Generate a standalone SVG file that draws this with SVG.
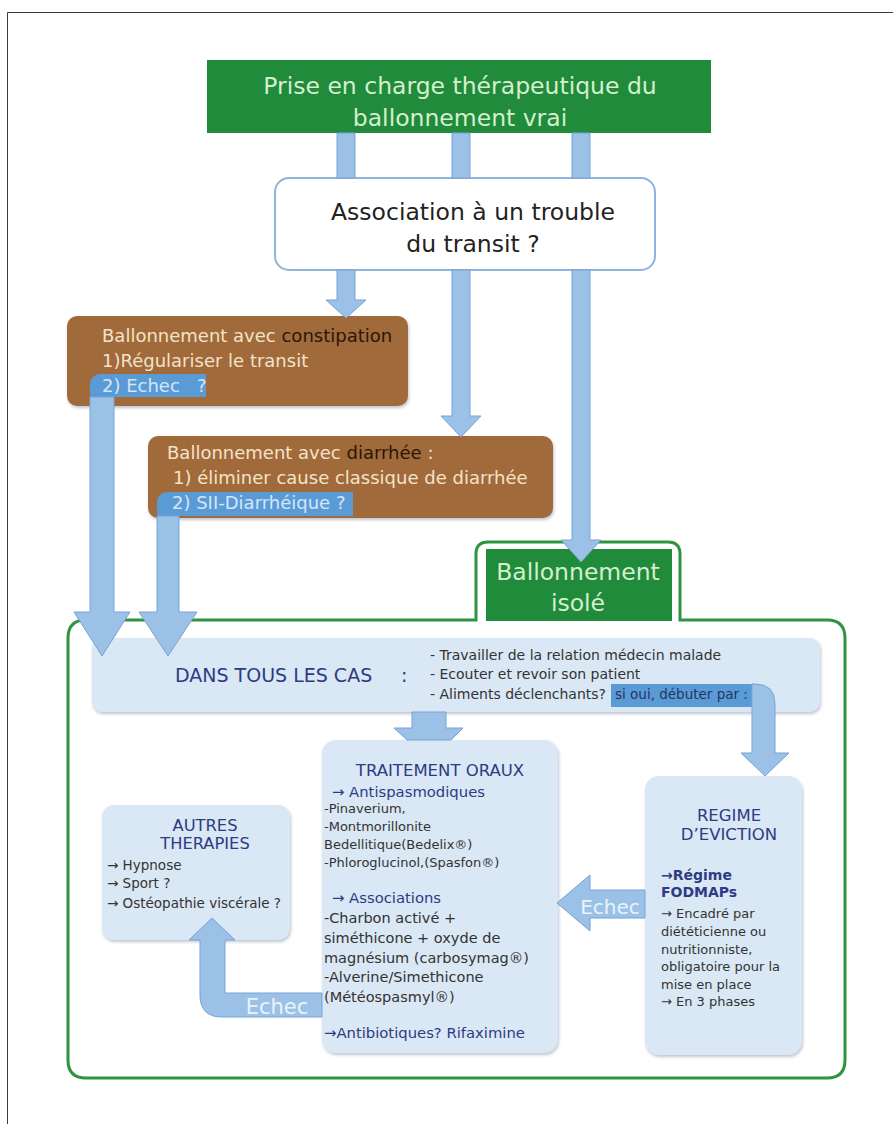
<svg xmlns="http://www.w3.org/2000/svg" width="893" height="1124" viewBox="0 0 893 1124">
<defs>
<style>
text{font-family:"DejaVu Sans","Liberation Sans",sans-serif}
.page{fill:none;stroke:#3a3a3a;stroke-width:1}
.gbox{fill:#1f8b3b}
.gtxt{fill:#d6efcf;font-size:23.5px;text-anchor:middle}
.brown{fill:#a16b3a;filter:url(#sh)}
.light{fill:#f3e3c9}
.dark{fill:#2a1708}
.hl{fill:#5b9bd5}
.hltxt{fill:#d3e6f8}
.lb{fill:#dae7f4;filter:url(#sh)}
.navy{fill:#2d3b84}
.body{fill:#333}
.arr{fill:#9cc1e7;stroke:#76a3d6;stroke-width:1}
.frame{fill:none;stroke:#2f9440;stroke-width:3}
.echec{fill:#eaf3fc;text-anchor:middle}
</style>
<filter id="sh" x="-5%" y="-5%" width="110%" height="115%"><feDropShadow dx="1" dy="2" stdDeviation="1.5" flood-color="#7f8fa3" flood-opacity="0.5"/></filter>
</defs>
<rect width="893" height="1124" fill="#fff"/>
<path class="page" d="M7.5 1124 V12.5 H893"/>

<g id="frame-isole">
<path class="frame" d="M86 620 H476 V554 Q476 542 488 542 H668 Q680 542 680 554 V620 H827 Q845 620 845 638 V1060 Q845 1078 827 1078 H86 Q68 1078 68 1060 V638 Q68 620 86 620 Z"/>
<rect class="gbox" x="486" y="549" width="186" height="72"/>
<text class="gtxt" x="578" y="580">Ballonnement</text>
<text class="gtxt" x="578" y="611">isolé</text>
</g>

<g id="title">
<rect class="gbox" x="207" y="60" width="504" height="73"/>
<text class="gtxt" x="460" y="93.5">Prise en charge thérapeutique du</text>
<text class="gtxt" x="460" y="125.5">ballonnement vrai</text>
</g>

<g id="association">
<rect x="275" y="178" width="380" height="92" rx="14" fill="#fff" stroke="#8fb3dc" stroke-width="2"/>
<text x="473" y="220" font-size="23.5" fill="#222" text-anchor="middle">Association à un trouble</text>
<text x="473" y="252" font-size="23.5" fill="#222" text-anchor="middle">du transit ?</text>
</g>

<g id="constipation">
<rect class="brown" x="67" y="316" width="341" height="90" rx="10"/>
<text x="102" y="342" font-size="18"><tspan class="light">Ballonnement avec </tspan><tspan class="dark">constipation</tspan></text>
<text class="light" x="102" y="367" font-size="18">1)Régulariser le transit</text>
<path class="hl" d="M90 386 Q90 374 102 374 H206 V397 H90 Z"/>
<text class="hltxt" x="102" y="392" font-size="18">2) Echec&#160;&#160; ?</text>
</g>

<g id="diarrhee">
<rect class="brown" x="148" y="436" width="405" height="82" rx="10"/>
<text x="167" y="459" font-size="18"><tspan class="light">Ballonnement avec </tspan><tspan class="dark">diarrhée</tspan><tspan class="light"> :</tspan></text>
<text class="light" x="173" y="484" font-size="18">1) éliminer cause classique de diarrhée</text>
<path class="hl" d="M157 504 Q157 492 169 492 H353 V516 H157 Z"/>
<text class="hltxt" x="172" y="509" font-size="18">2) SII-Diarrhéique ?</text>
</g>

<g id="dans-tous-les-cas">
<rect class="lb" x="92" y="638" width="728" height="74" rx="10"/>
<text class="navy" x="175" y="682" font-size="19">DANS TOUS LES CAS</text>
<text class="navy" x="401" y="682" font-size="19">:</text>
<text class="body" x="430" y="660" font-size="14">- Travailler de la relation médecin malade</text>
<text class="body" x="430" y="679" font-size="14">- Ecouter et revoir son patient</text>
<text class="body" x="430" y="699" font-size="14">- Aliments déclenchants?</text>
<rect class="hl" x="611" y="684" width="141" height="23"/>
<text x="615" y="699" font-size="13.5" fill="#1f3566">si oui, débuter par :</text>
</g>

<g id="traitement-oraux">
<rect class="lb" x="322" y="740" width="236" height="313" rx="14"/>
<text class="navy" x="440" y="776" font-size="16.5" text-anchor="middle">TRAITEMENT ORAUX</text>
<text class="navy" x="332" y="797" font-size="14.8">→ Antispasmodiques</text>
<text class="body" x="324" y="813" font-size="13">-Pinaverium,</text>
<text class="body" x="324" y="831" font-size="13">-Montmorillonite</text>
<text class="body" x="324" y="849" font-size="13">Bedellitique(Bedelix®)</text>
<text class="body" x="324" y="867" font-size="13">-Phloroglucinol,(Spasfon®)</text>
<text class="navy" x="332" y="903" font-size="14.8">→ Associations</text>
<text class="body" x="324" y="923" font-size="14.5">-Charbon activé +</text>
<text class="body" x="324" y="943" font-size="14.5">siméthicone + oxyde de</text>
<text class="body" x="324" y="963" font-size="14.5">magnésium (carbosymag®)</text>
<text class="body" x="324" y="982" font-size="14.5">-Alverine/Simethicone</text>
<text class="body" x="324" y="1002" font-size="14.5">(Météospasmyl®)</text>
<text class="navy" x="324" y="1038" font-size="14.8">→Antibiotiques? Rifaximine</text>
</g>

<g id="autres-therapies">
<rect class="lb" x="102" y="805" width="188" height="135" rx="12"/>
<text class="navy" x="205" y="831" font-size="16.3" text-anchor="middle">AUTRES</text>
<text class="navy" x="205" y="849" font-size="16.3" text-anchor="middle">THERAPIES</text>
<text class="body" x="107" y="870" font-size="13.5">→ Hypnose</text>
<text class="body" x="107" y="888" font-size="13.5">→ Sport ?</text>
<text class="body" x="107" y="908" font-size="13.5">→ Ostéopathie viscérale ?</text>
</g>

<g id="regime-eviction">
<rect class="lb" x="645" y="776" width="157" height="279" rx="14"/>
<text class="navy" x="729" y="821" font-size="16.5" text-anchor="middle">REGIME</text>
<text class="navy" x="729" y="840" font-size="16.5" text-anchor="middle">D’EVICTION</text>
<text class="navy" x="661" y="880" font-size="14" font-weight="bold">→Régime</text>
<text class="navy" x="661" y="897" font-size="14" font-weight="bold">FODMAPs</text>
<text class="body" x="661" y="918" font-size="13">→ Encadré par</text>
<text class="body" x="661" y="936" font-size="13">diététicienne ou</text>
<text class="body" x="661" y="954" font-size="13">nutritionniste,</text>
<text class="body" x="661" y="971" font-size="13">obligatoire pour la</text>
<text class="body" x="661" y="989" font-size="13">mise en place</text>
<text class="body" x="661" y="1006" font-size="13">→ En 3 phases</text>
</g>

<g id="connectors">
<path class="arr" d="M337 133 H355 V178 H337 Z"/>
<path class="arr" d="M452 133 H470 V178 H452 Z"/>
<path class="arr" d="M572 133 H590 V178 H572 Z"/>
<path class="arr" d="M337 270 H355 V300 H366 L346 318 L326 300 H337 Z"/>
<path class="arr" d="M452 270 H470 V416 H481 L461 437 L441 416 H452 Z"/>
<path class="arr" d="M572 270 H590 V540 H601 L581 562 L561 540 H572 Z"/>
<path class="arr" d="M90 397 H114 V612 H130 L102 656 L74 612 H90 Z"/>
<path class="arr" d="M157 516 H179 V612 H197 L168 656 L139 612 H157 Z"/>
<path class="arr" d="M412 712 H446 V728 H463 L451 740 H407 L394 728 H412 Z"/>
<path class="arr" d="M752 684 H755 Q775 684 775 704 V753 H789 L765 776 L741 753 H752 Z"/>
<path class="arr" d="M645 890 H590 V875 L557 903 L590 931 V918 H645 Z"/>
<text class="echec" x="610" y="914" font-size="20">Echec</text>
<path class="arr" d="M322 993 H225 V940 H235 L212 918 L189 940 H200 V995 Q200 1017 222 1017 H322 Z"/>
<text class="echec" x="277" y="1014" font-size="21">Echec</text>
</g>
</svg>
